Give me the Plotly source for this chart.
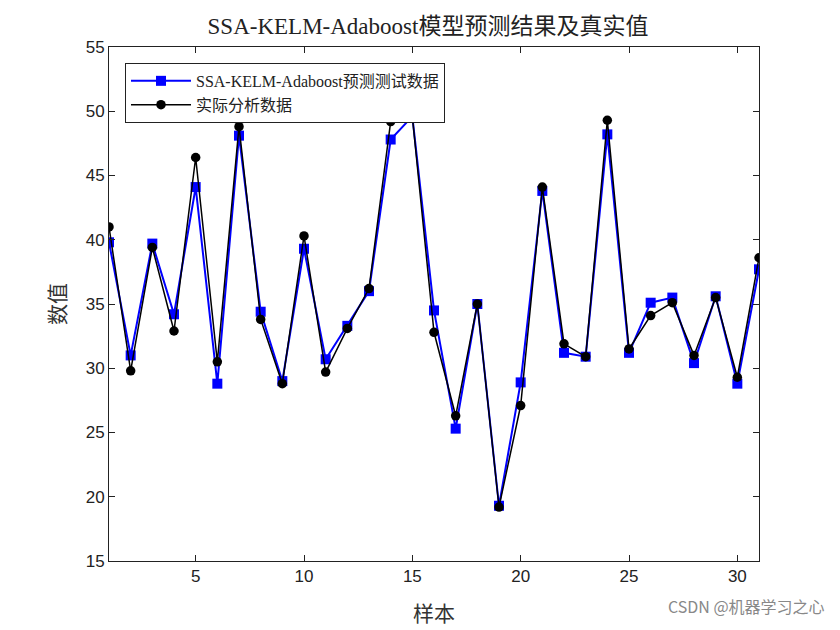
import plotly.graph_objects as go

samples = list(range(1, 32))
predicted = [39.8, 31.0, 39.7, 34.2, 44.1, 28.8, 48.1, 34.4, 29.0, 39.3,
             30.7, 33.3, 36.0, 47.8, 49.6, 34.5, 25.3, 35.0, 19.3, 28.9,
             43.8, 31.2, 30.9, 48.2, 31.2, 35.1, 35.5, 30.4, 35.6, 28.8, 37.7]
actual = [41.0, 29.8, 39.4, 32.9, 46.4, 30.5, 48.8, 33.8, 28.8, 40.3,
          29.7, 33.1, 36.2, 49.2, 49.6, 32.8, 26.3, 35.0, 19.2, 27.1,
          44.1, 31.9, 30.9, 49.3, 31.5, 34.1, 35.1, 31.0, 35.5, 29.3, 38.6]

serif = "Liberation Serif, Noto Sans CJK SC"
sans = "Liberation Sans, Arial"

fig = go.Figure()
fig.add_trace(go.Scatter(
    x=samples, y=predicted, mode="lines+markers",
    name="SSA-KELM-Adaboost预测测试数据",
    line=dict(color="#0000ff", width=2),
    marker=dict(symbol="square", size=10, color="#0000ff"),
))
fig.add_trace(go.Scatter(
    x=samples, y=actual, mode="lines+markers",
    name="实际分析数据",
    line=dict(color="#000000", width=1.5),
    marker=dict(symbol="circle", size=9.5, color="#000000"),
))

# page body adds 8px offset, margins account for it
fig.update_layout(
    width=840, height=630,
    margin=dict(l=101, r=89, t=39, b=77),
    paper_bgcolor="white", plot_bgcolor="white",
    title=dict(text="SSA-KELM-Adaboost模型预测结果及真实值",
               x=0.5, xanchor="center", y=0.985, yanchor="top",
               font=dict(family=serif, size=23, color="#222")),
    legend=dict(x=0.0246, y=0.969, xanchor="left", yanchor="top",
                bordercolor="#222", borderwidth=1, bgcolor="white",
                font=dict(family=serif, size=16, color="#222"),
                itemwidth=60, tracegroupgap=0),
    showlegend=True,
)
fig.update_xaxes(
    range=[1, 31], tickvals=[5, 10, 15, 20, 25, 30],
    ticks="inside", ticklen=6, tickcolor="#222",
    showline=True, linecolor="#222", linewidth=1, mirror="ticks",
    showgrid=False, zeroline=False,
    tickfont=dict(family=sans, size=17, color="#222"),
    title=dict(text="样本", font=dict(family=serif, size=21, color="#333"), standoff=20),
)
fig.update_yaxes(
    range=[15, 55], dtick=5,
    ticks="inside", ticklen=6, tickcolor="#222",
    showline=True, linecolor="#222", linewidth=1, mirror="ticks",
    showgrid=False, zeroline=False,
    tickfont=dict(family=sans, size=17, color="#222"),
    title=dict(text="数值", font=dict(family=serif, size=21, color="#333"), standoff=14),
)

fig.add_annotation(text="CSDN @机器学习之心", xref="paper", yref="paper",
                   x=1.105, y=-0.115, xanchor="right", yanchor="bottom",
                   showarrow=False,
                   font=dict(family="Noto Sans CJK SC", size=16, color="#888"))

fig.write_html("out.html")
